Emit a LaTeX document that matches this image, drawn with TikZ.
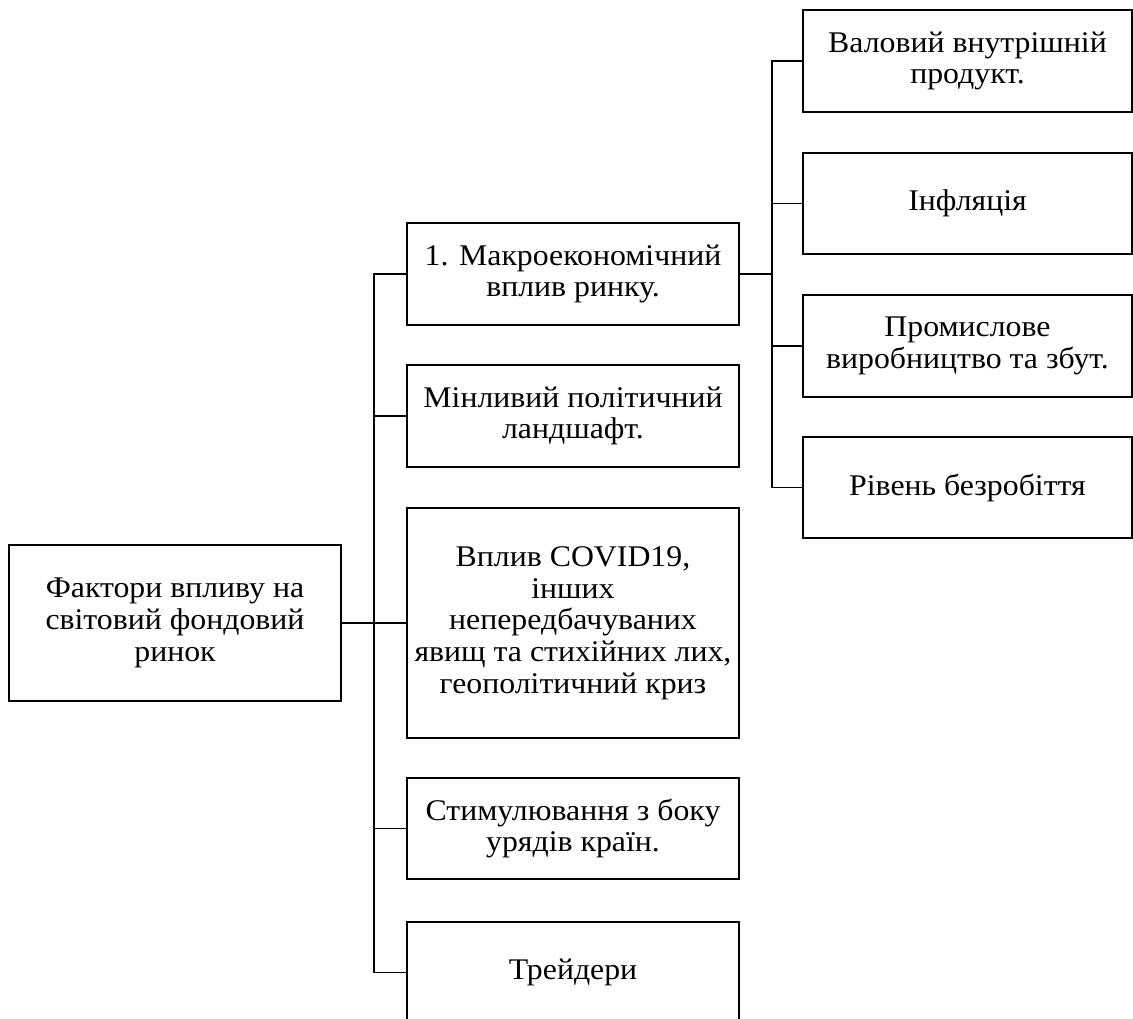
\documentclass[tikz,border=0pt]{standalone}
\usepackage{fontspec}
\setmainfont[FakeStretch=1.06]{Liberation Serif}
\tikzset{%
	factor/.style={draw,line width=1.4pt,rectangle,minimum width=332pt,align=center,font=\fontsize{30}{31.7}\selectfont,inner sep=0pt},
	subfactor/.style={factor,minimum width=329pt},
	link/.style={line width=1.4pt},
}

\begin{document}
\begin{tikzpicture}[x=1pt,y=-1pt]
			\useasboundingbox (0,0) rectangle (1133,1019);
			\node[factor,minimum height=156pt] (root) at (175,623) {Фактори впливу на\\світовий фондовий\\ринок};
			\node[factor,minimum height=102pt] (macro) at (573,274) {1. Макроекономічний\\вплив ринку.};
			\node[factor,minimum height=102pt] (polit) at (573,416) {Мінливий політичний\\ландшафт.};
			\node[factor,minimum height=230pt] (covid) at (573,623) {Вплив COVID19,\\інших\\непередбачуваних\\явищ та стихійних лих,\\геополітичний криз};
			\node[factor,minimum height=101pt] (stim) at (573,828.5) {Стимулювання з боку\\урядів країн.};
			\node[factor,minimum height=101pt] (trad) at (573,972.5) {Трейдери};
			\node[subfactor,minimum height=102pt] (gdp) at (967.5,61) {Валовий внутрішній\\продукт.};
			\node[subfactor,minimum height=101pt] (infl) at (967.5,203.5) {Інфляція};
			\node[subfactor,minimum height=102pt] (prod) at (967.5,346) {Промислове\\виробництво та збут.};
			\node[subfactor,minimum height=101pt] (unemp) at (967.5,487.5) {Рівень безробіття};
			\coordinate (lbus) at (374,623);
			\coordinate (rbus) at (772,274);
			\draw[link] (root.east) -- (covid.west);
			\draw[link] (macro.west) -- (macro.west -| lbus) -- (trad.west -| lbus) -- (trad.west);
			\foreach \n in {polit,stim} \draw[link] (\n.west) -- (\n.west -| lbus);
			\draw[link] (macro.east) -- (rbus);
			\draw[link] (gdp.west) -- (gdp.west -| rbus) -- (unemp.west -| rbus) -- (unemp.west);
			\foreach \n in {infl,prod} \draw[link] (\n.west) -- (\n.west -| rbus);
		\end{tikzpicture}
\end{document}
